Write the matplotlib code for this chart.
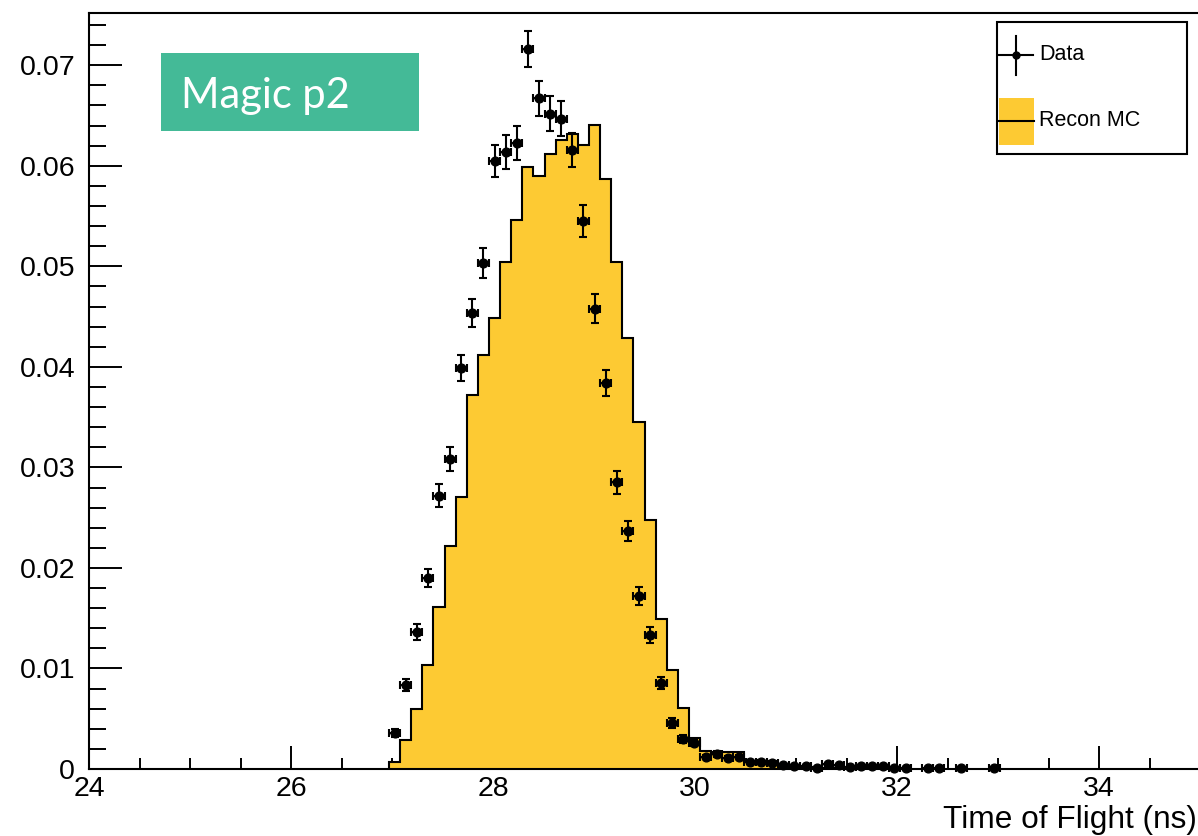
import numpy as np
import matplotlib
matplotlib.use("Agg")
import matplotlib.pyplot as plt
from matplotlib.lines import Line2D
from matplotlib.patches import Rectangle
from matplotlib.ticker import MultipleLocator, FuncFormatter

# ---------------- data ----------------
# Recon MC histogram (bin width 0.11 ns, first edge 26.97 ns)
mc_edges = np.round(np.linspace(26.97, 32.03, 47), 3)
mc_values = [0.0007, 0.0029, 0.0060, 0.0103, 0.0161, 0.0222, 0.0271, 0.0372,
             0.0412, 0.0449, 0.0504, 0.0546, 0.0599, 0.0590, 0.0612, 0.0626,
             0.0632, 0.0621, 0.0641, 0.0587, 0.0504, 0.0429, 0.0345, 0.0248,
             0.0149, 0.0098, 0.0061, 0.0031, 0.0018, 0.0017, 0.0017, 0.0017,
             0.0008, 0.0008, 0.0008, 0.0003, 0.0003, 0.0002, 0.0002, 0.0001,
             0.0001, 0.0001, 0.0001, 0.0001, 0.0001, 0.0001]

# Data points (bin centres)
data_x = [27.025, 27.135, 27.245, 27.355, 27.465, 27.575, 27.685, 27.795,
          27.905, 28.015, 28.125, 28.235, 28.345, 28.455, 28.565, 28.675,
          28.785, 28.895, 29.005, 29.115, 29.225, 29.335, 29.445, 29.555,
          29.665, 29.775, 29.885, 29.995, 30.105, 30.215, 30.325, 30.435,
          30.545, 30.655, 30.765, 30.875, 30.985, 31.095, 31.205, 31.315,
          31.425, 31.535, 31.645, 31.755, 31.865, 31.975, 32.085, 32.305,
          32.415, 32.635, 32.965]
data_y = [0.0036, 0.0084, 0.0136, 0.0190, 0.0272, 0.0308, 0.0399, 0.0454,
          0.0503, 0.0605, 0.0614, 0.0623, 0.0716, 0.0667, 0.0652, 0.0647,
          0.0616, 0.0545, 0.0458, 0.0384, 0.0285, 0.0237, 0.0172, 0.0133,
          0.0086, 0.0046, 0.0030, 0.0026, 0.0012, 0.0015, 0.0011, 0.0012,
          0.0007, 0.0007, 0.0006, 0.0004, 0.0003, 0.0003, 0.0001, 0.0005,
          0.0004, 0.0002, 0.0003, 0.0003, 0.0003, 0.0001, 0.0001, 0.0001,
          0.0001, 0.0001, 0.0001]
data_err = [0.0004, 0.0006, 0.0008, 0.0009, 0.0011, 0.0012, 0.0013, 0.0014,
            0.0015, 0.0016, 0.0017, 0.0017, 0.0018, 0.0017, 0.0017, 0.0017,
            0.0017, 0.0016, 0.0014, 0.0013, 0.0011, 0.0010, 0.0009, 0.0008,
            0.0006, 0.0005, 0.0004, 0.0003, 0.0002, 0.0003, 0.0002, 0.0002,
            0.0002, 0.0002, 0.0002, 0.0001, 0.0001, 0.0001, 0.0001, 0.0001,
            0.0001, 0.0001, 0.0001, 0.0001, 0.0001, 0.0001, 0.0001, 0.0001,
            0.0001, 0.0001, 0.0001]
data_xerr = 0.055

x_ticks = [24, 26, 28, 30, 32, 34]
y_ticks = [0.0, 0.01, 0.02, 0.03, 0.04, 0.05, 0.06, 0.07]
legend_labels = ["Data", "Recon MC"]

ORANGE = "#FDCA33"
GREEN = "#44BA97"

plt.rcParams["font.family"] = ["Liberation Sans", "DejaVu Sans"]

W, H = 1198, 836
fig = plt.figure(figsize=(W / 100, H / 100), dpi=100)
ax = fig.add_axes([89 / W, (H - 769) / H, 1111 / W, 756 / H])

# histogram
ax.stairs(mc_values, mc_edges, baseline=0, fill=True, color=ORANGE,
          linewidth=0, zorder=2)
ax.stairs(mc_values, mc_edges, baseline=0, fill=False, color="black",
          linewidth=1.5, zorder=3)

# data
ax.errorbar(data_x, data_y, yerr=data_err, xerr=data_xerr, fmt="o",
            color="black", ms=6.3, elinewidth=1.5, capsize=3.2, capthick=1.5,
            zorder=5, clip_on=False)

ax.set_xlim(24, 35)
ax.set_ylim(0, 0.0752)

ax.set_xticks(x_ticks)
ax.set_yticks(y_ticks)
ax.xaxis.set_minor_locator(MultipleLocator(0.5))
ax.yaxis.set_minor_locator(MultipleLocator(0.002))
ax.yaxis.set_major_formatter(FuncFormatter(lambda v, p: "0" if abs(v) < 1e-9 else f"{v:.2f}"))

ax.tick_params(axis="x", which="major", direction="in", length=16.5, width=1.4,
               labelsize=20.5, pad=5, top=False)
ax.tick_params(axis="x", which="minor", direction="in", length=8, width=1.4, top=False)
ax.tick_params(axis="y", which="major", direction="in", length=24, width=1.4,
               labelsize=20.5, pad=10, right=False)
ax.tick_params(axis="y", which="minor", direction="in", length=12, width=1.4, right=False)

for s in ax.spines.values():
    s.set_linewidth(1.5)

fig.text(1197 / W, 1 - 820 / H, "Time of Flight (ns)", ha="right", va="center",
         fontsize=22.8)

# label box
fig.patches.append(Rectangle((161 / W, 1 - 131 / H), (419 - 161) / W, (131 - 53) / H,
                             transform=fig.transFigure, facecolor=GREEN,
                             edgecolor="none", zorder=10))
fig.text(181 / W, 1 - 108 / H, "Magic p2", ha="left", va="baseline",
         color="white", fontsize=30, family=["Lato", "DejaVu Sans"], zorder=11)

# legend (drawn in figure pixel coordinates, ROOT-style)
def fx(px):
    return px / W


def fy(py):
    return 1 - py / H


fig.patches.append(Rectangle((fx(997), fy(154)), (1187 - 997) / W, (154 - 22) / H,
                             transform=fig.transFigure, facecolor="white",
                             edgecolor="black", linewidth=1.5, zorder=20))
# Data entry: cross with dot
fig.lines.append(Line2D([fx(999), fx(1033)], [fy(55), fy(55)], transform=fig.transFigure,
                        color="black", lw=1.5, zorder=21))
fig.lines.append(Line2D([fx(1016), fx(1016)], [fy(36), fy(75)], transform=fig.transFigure,
                        color="black", lw=1.5, zorder=21))
fig.lines.append(Line2D([fx(1016)], [fy(55)], transform=fig.transFigure, ls="none",
                        marker="o", ms=5, color="black", zorder=22))
fig.text(fx(1039), fy(55), legend_labels[0], ha="left", va="center", fontsize=15.5,
         zorder=22)
# Recon MC entry: filled box with line
fig.patches.append(Rectangle((fx(999), fy(145)), 35 / W, 47 / H,
                             transform=fig.transFigure, facecolor=ORANGE,
                             edgecolor="none", zorder=21))
fig.lines.append(Line2D([fx(999), fx(1034)], [fy(121), fy(121)], transform=fig.transFigure,
                        color="black", lw=1.5, zorder=22))
fig.text(fx(1039), fy(121), legend_labels[1], ha="left", va="center", fontsize=15.5,
         zorder=22)

fig.savefig("out.png", dpi=100)
